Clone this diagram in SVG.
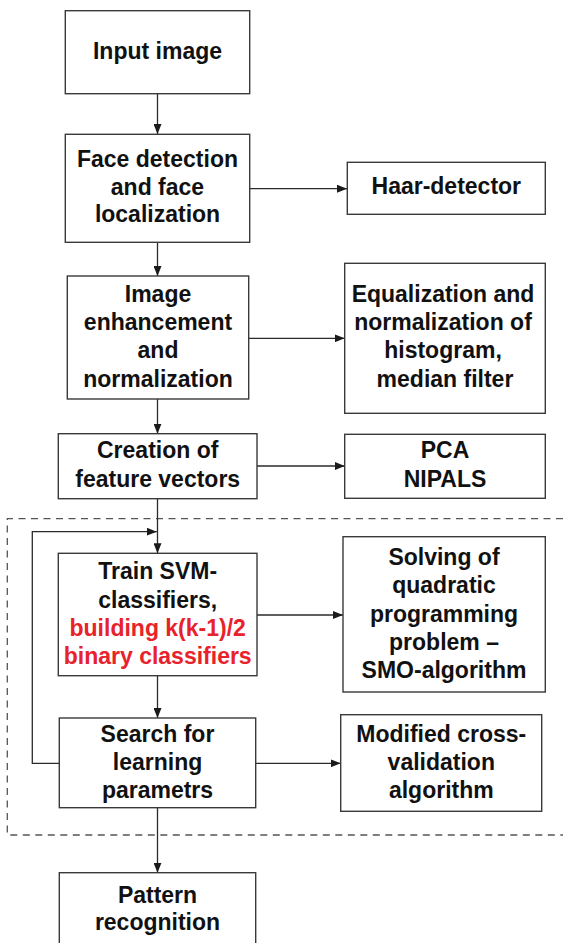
<svg xmlns="http://www.w3.org/2000/svg" width="563" height="943" viewBox="0 0 563 943">
<style>
.box{fill:#fff;stroke:#3a3a3a;stroke-width:1.4}
.t{font-family:"Liberation Sans",Arial,sans-serif;font-weight:bold;font-size:23px;fill:#111;text-anchor:middle}
.red{fill:#e8222b}
.ln{fill:none;stroke:#2a2a2a;stroke-width:1.3}
.dash{fill:none;stroke:#555;stroke-width:1.3;stroke-dasharray:7 5.5}
</style>
<defs>
<marker id="ah" markerUnits="userSpaceOnUse" markerWidth="10" markerHeight="8" refX="10" refY="4" orient="auto">
<path d="M0,0 L10,4 L0,8 z" fill="#1a1a1a"/>
</marker>
</defs>
<rect width="563" height="943" fill="#fff"/>
<path class="dash" d="M563,518.7 H7.3 V835 H563"/>
<g id="connectors">
<line class="ln" x1="157.5" y1="93.7" x2="157.5" y2="134" marker-end="url(#ah)"/>
<line class="ln" x1="249.7" y1="188.7" x2="347" y2="188.7" marker-end="url(#ah)"/>
<line class="ln" x1="157.5" y1="242.3" x2="157.5" y2="276" marker-end="url(#ah)"/>
<line class="ln" x1="248.7" y1="338.3" x2="344.7" y2="338.3" marker-end="url(#ah)"/>
<line class="ln" x1="157.5" y1="399" x2="157.5" y2="433.7" marker-end="url(#ah)"/>
<line class="ln" x1="257" y1="466" x2="344.7" y2="466" marker-end="url(#ah)"/>
<line class="ln" x1="157.5" y1="498.7" x2="157.5" y2="553.3" marker-end="url(#ah)"/>
<polyline class="ln" points="59.3,763.3 32.3,763.3 32.3,531.7 156.8,531.7" marker-end="url(#ah)"/>
<line class="ln" x1="257" y1="615" x2="343" y2="615" marker-end="url(#ah)"/>
<line class="ln" x1="157.5" y1="675.7" x2="157.5" y2="718" marker-end="url(#ah)"/>
<line class="ln" x1="255.7" y1="763.3" x2="340.7" y2="763.3" marker-end="url(#ah)"/>
<line class="ln" x1="157.5" y1="807.7" x2="157.5" y2="872.7" marker-end="url(#ah)"/>
</g>
<g id="input">
<rect class="box" x="65.3" y="10.7" width="184.4" height="83"/>
<text class="t" x="157.5" y="59.3">Input image</text>
</g>
<g id="face">
<rect class="box" x="65.3" y="134.3" width="184.4" height="108"/>
<text class="t" x="157.5" y="166.7">Face detection</text>
<text class="t" x="157.5" y="194.7">and face</text>
<text class="t" x="157.5" y="222.3">localization</text>
</g>
<g id="haar">
<rect class="box" x="347.3" y="162.3" width="198" height="52"/>
<text class="t" x="446.3" y="194.3">Haar-detector</text>
</g>
<g id="enhance">
<rect class="box" x="67.3" y="276" width="181.4" height="123"/>
<text class="t" x="158" y="301.7">Image</text>
<text class="t" x="158" y="330">enhancement</text>
<text class="t" x="158" y="358.3">and</text>
<text class="t" x="158" y="386.7">normalization</text>
</g>
<g id="equal">
<rect class="box" x="344.7" y="263.3" width="200.6" height="150"/>
<text class="t" x="443" y="301.7">Equalization and</text>
<text class="t" x="443" y="330">normalization of</text>
<text class="t" x="443" y="358.3">histogram,</text>
<text class="t" x="445" y="386.7">median filter</text>
</g>
<g id="creation">
<rect class="box" x="58.3" y="433.7" width="198.7" height="65"/>
<text class="t" x="157.7" y="458.3">Creation of</text>
<text class="t" x="157.7" y="486.7">feature vectors</text>
</g>
<g id="pca">
<rect class="box" x="344.7" y="434.3" width="200.6" height="64"/>
<text class="t" x="445" y="458.3">PCA</text>
<text class="t" x="445" y="486.7">NIPALS</text>
</g>
<g id="train">
<rect class="box" x="58.3" y="553.3" width="198.7" height="122.4"/>
<text class="t" x="157.7" y="579.3">Train SVM-</text>
<text class="t" x="157.7" y="607.7">classifiers,</text>
<text class="t red" x="157.7" y="636">building k(k-1)/2</text>
<text class="t red" x="157.7" y="663.7">binary classifiers</text>
</g>
<g id="solving">
<rect class="box" x="343" y="536.7" width="202.3" height="155.3"/>
<text class="t" x="444" y="565">Solving of</text>
<text class="t" x="444" y="593.3">quadratic</text>
<text class="t" x="444" y="621.7">programming</text>
<text class="t" x="444" y="650">problem –</text>
<text class="t" x="444" y="677.7">SMO-algorithm</text>
</g>
<g id="search">
<rect class="box" x="59.3" y="718" width="196.4" height="89.7"/>
<text class="t" x="157.5" y="741.7">Search for</text>
<text class="t" x="157.5" y="770">learning</text>
<text class="t" x="157.5" y="797.7">parametrs</text>
</g>
<g id="modified">
<rect class="box" x="340.7" y="714.7" width="201" height="96.6"/>
<text class="t" x="441.3" y="741.7">Modified cross-</text>
<text class="t" x="441.3" y="770">validation</text>
<text class="t" x="441.3" y="797.7">algorithm</text>
</g>
<g id="pattern">
<rect class="box" x="59.3" y="872.7" width="196.4" height="90"/>
<text class="t" x="157.5" y="902.7">Pattern</text>
<text class="t" x="157.5" y="930.3">recognition</text>
</g>
</svg>
